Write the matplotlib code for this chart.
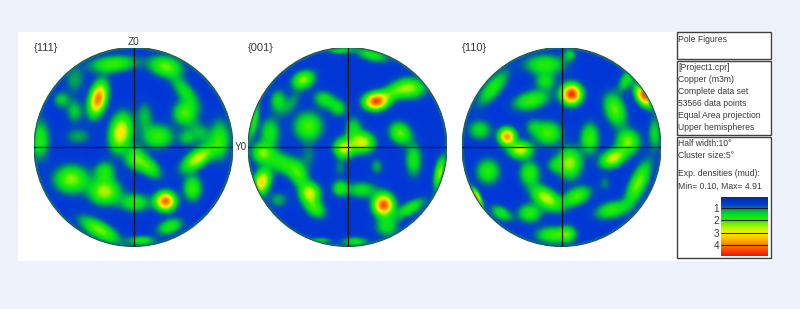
#!/usr/bin/python
""" Pole figures of a copper data set, equal area projection """
import matplotlib
matplotlib.use('Agg')
import matplotlib.pyplot as plt
from matplotlib.colors import LinearSegmentedColormap
from matplotlib.patches import Circle, Rectangle
import numpy as np

plt.rcParams['font.family'] = ['Liberation Sans', 'DejaVu Sans']

TEXT_COLOR = '#3a3a3a'
BASE_DENSITY = 0.55
SPREAD = 1.12  # widens every cluster, half width of the smoothing

# density clusters: u, v on the unit disc, height in mud, two spreads, tilt in deg
U_111 = [-.357, -.128, -.205, .323, .519, .519, .249, .114, -.593, -.727, -.593,
         -.559, -.946, .872, .67, .653, .013, .148, -.626, -.29, -.29, .596, .323,
         .013, -.34, .367, .08, .535]
V_111 = [.481, .141, .832, .808, .556, .337, .101, .303, .354, .471, .673, .101,
         .067, .067, .135, -.118, -.118, -.202, -.33, -.253, -.455, -.421, -.552,
         -.566, -.842, -.808, -.949, .084]
H_111 = [4.1, 3.1, 2.0, 2.2, 1.6, 2.1, 2.0, 1.3, 1.4, 1.4, 1.2, 1.2, 1.8, 1.8, 1.3,
         2.8, 1.8, 2.0, 2.4, 1.7, 2.6, 2.0, 4.2, 1.8, 2.3, 1.8, 1.7, 1.3]
A_111 = [.10, .11, .14, .10, .12, .07, .09, .09, .07, .05, .08, .08, .12, .12, .08,
         .11, .07, .09, .10, .06, .09, .075, .06, .09, .13, .08, .08, .05]
B_111 = [.05, .065, .05, .06, .05, .07, .07, .05, .05, .05, .06, .05, .06, .06, .06,
         .05, .06, .05, .08, .06, .075, .055, .055, .055, .05, .045, .03, .05]
T_111 = [75, 80, 5, -10, -50, 0, 0, 90, 90, 0, 90, 0, 90, 90, -45,
         35, 90, -40, 0, 0, 0, 90, 0, 0, -30, 20, 0, 0]

U_001 = [.286, .633, .448, .246, -.074, -.444, -.697, -.562, -.226, -.091, -.394,
         -.781, .061, .152, -.034, .532, -.865, -.663, -.49, -.394, -.865, -.377,
         -.327, -.697, -.074, .364, .145, .667, .296, -.074, .936, .633, .397, .077,
         -.276, -.95]
V_001 = [.455, .589, .539, .926, .97, .673, .455, .438, .471, .387, .202, .135, .185,
         .04, -.017, .135, -.067, -.168, -.286, -.10, -.36, -.471, -.623, -.539,
         -.421, -.589, -.438, -.135, -.202, -.219, -.269, -.623, -.808, -.96, -.949,
         .27]
H_001 = [4.3, 2.3, 1.7, 1.7, 1.5, 2.4, 1.6, 1.1, 1.7, 1.5, 2.1, 1.7, 1.5, 2.8, 2.7,
         2.2, 2.0, 1.8, 1.7, 1.0, 3.2, 2.7, 1.9, 1.2, 1.7, 4.4, 1.6, 1.7, 1.2, 1.0,
         2.4, 1.8, 1.6, 1.6, 1.4, 1.9]
A_001 = [.07, .09, .09, .10, .08, .07, .07, .09, .07, .05, .085, .09, .07, .07, .06,
         .07, .06, .12, .09, .08, .08, .06, .07, .06, .05, .065, .09, .10, .05, .05,
         .10, .10, .07, .08, .07, .12]
B_001 = [.05, .06, .05, .04, .025, .05, .05, .04, .05, .05, .085, .06, .05, .06, .06,
         .06, .06, .06, .05, .05, .05, .06, .05, .05, .05, .06, .05, .05, .04, .04,
         .035, .04, .06, .03, .02, .03]
T_001 = [5, 0, 20, -15, 0, 25, 90, 55, -20, 0, 0, 90, 90, 0, 0, -45, 0, -30, -70, 90,
         70, 0, -40, 0, 0, 90, 0, 90, 90, 90, 80, 30, 0, 0, 0, 80]

U_110 = [.101, .835, .657, -.549, -.414, .539, -.303, -.162, -.168, .084, -.69,
         -.825, -.135, -.286, .286, .673, .522, .084, -.067, -.741, -.32, -.152,
         .152, -.32, -.606, -.859, .505, .774, -.084, .067, .438, .943]
V_110 = [.529, .515, .673, .101, -.034, .37, .465, .657, .825, .926, .589, .168,
         .135, .202, .084, .05, -.118, -.168, -.185, -.253, -.269, -.522, -.505,
         -.673, -.673, -.522, -.64, -.37, -.892, -.882, -.37, .135]
H_110 = [4.7, 4.3, 1.6, 3.8, 2.8, 2.2, 2.0, 1.6, 1.9, 1.4, 1.8, 1.6, 2.1, 1.2, 2.0,
         2.3, 2.8, 2.5, 1.3, 1.9, 1.9, 2.7, 2.1, 1.9, 1.7, 4.0, 1.9, 2.3, 2.0, 1.6,
         1.0, 1.5]
A_110 = [.06, .07, .08, .05, .07, .10, .11, .06, .12, .04, .13, .07, .08, .05, .09,
         .07, .08, .09, .05, .075, .07, .10, .09, .07, .07, .06, .10, .14, .10, .05,
         .05, .10]
B_110 = [.06, .045, .04, .05, .05, .06, .055, .05, .06, .04, .05, .06, .07, .05,
         .055, .07, .05, .07, .05, .07, .06, .055, .05, .055, .04, .025, .05, .05,
         .05, .05, .04, .04]
T_110 = [0, -60, 60, 0, 0, -70, 15, 0, 0, 0, 50, 0, 0, 0, 90, 0, 25, 90, 0, 90, 90,
         -35, 25, 0, -30, -65, 15, 65, 0, 0, 90, 90]

FIGURE_NAMES = ['{111}', '{001}', '{110}']
FIGURE_CLUSTERS = [
    (U_111, V_111, H_111, A_111, B_111, T_111),
    (U_001, V_001, H_001, A_001, B_001, T_001),
    (U_110, V_110, H_110, A_110, B_110, T_110),
]

TITLE_LINES = ['Pole Figures']
INFO_LINES = ['[Project1.cpr]', 'Copper (m3m)', 'Complete data set', '53566 data points',
              'Equal Area projection', 'Upper hemispheres']
SMOOTHING_LINES = ['Half width:10\u00b0', 'Cluster size:5\u00b0']
DENSITY_LINES = ['Exp. densities (mud):', 'Min= 0.10, Max= 4.91']
DENSITY_MIN = 0.10
DENSITY_MAX = 4.91
LEVELS = [1, 2, 3, 4]

CMAP = LinearSegmentedColormap.from_list('pole', [
    (0.0, '#00308c'), (0.07, '#0034c4'), (0.1, '#0038d8'), (0.14, '#0048c0'),
    (0.187, '#008078'), (0.24, '#00b848'), (0.29, '#00e020'), (0.395, '#30ee00'),
    (0.5, '#a0f400'), (0.603, '#ffee00'), (0.707, '#ffc000'), (0.81, '#ff8000'),
    (0.9, '#ff4800'), (1.0, '#e81800')])


def density_grid(clusters, size=300):
    """ sum the clusters into a density map on the unit square """
    axis = np.linspace(-1, 1, size)
    xx_, yy_ = np.meshgrid(axis, axis)
    grid = np.full(xx_.shape, BASE_DENSITY)
    for u_, v_, hgt, a_, b_, tilt in zip(*clusters):
        rad = np.radians(tilt)
        along = (xx_ - u_) * np.cos(rad) + (yy_ - v_) * np.sin(rad)
        across = -(xx_ - u_) * np.sin(rad) + (yy_ - v_) * np.cos(rad)
        grid += (hgt - BASE_DENSITY) * np.exp(
            -0.5 * ((along / (a_ * SPREAD))**2 + (across / (b_ * SPREAD))**2))
    return np.clip(grid, DENSITY_MIN, DENSITY_MAX)


def pole_figure(fig, left, clusters):
    """ draw one disc with its cross """
    ax_ = fig.add_axes([left / 800., (309 - 246.5) / 309., 199 / 800., 199 / 309.])
    ax_.set_xlim(-1, 1)
    ax_.set_ylim(-1, 1)
    ax_.axis('off')
    img = ax_.imshow(density_grid(clusters), extent=(-1, 1, -1, 1), origin='lower',
                     cmap=CMAP, vmin=DENSITY_MIN, vmax=DENSITY_MAX, aspect='auto',
                     interpolation='bilinear')
    img.set_clip_path(Circle((0, 0), 1, transform=ax_.transData))
    ax_.add_patch(Circle((0, 0), 0.99, fill=False, ec='#00a060', lw=1.6, alpha=0.4))
    ax_.add_patch(Circle((0, 0), 1, fill=False, ec='#2a5a40', lw=0.8))
    ax_.plot([-1, 1], [0, 0], color='#101810', lw=0.9)
    ax_.plot([0, 0], [-1, 1], color='#101810', lw=0.9)


def text_lines(page, lines, first_y, step):
    """ left aligned lines inside a framed box """
    for i, line in enumerate(lines):
        page.text(678, first_y + i * step, line, fontsize=6.2, color=TEXT_COLOR,
                  va='center', ha='left')


def frame(page, top, bottom):
    """ one of the framed boxes on the right """
    page.add_patch(Rectangle((676.5, top), 94, bottom - top, fc='white',
                             ec='#404040', lw=1.0))


def make_plot():
    """ the whole window """
    fig = plt.figure(figsize=(8, 3.09), dpi=100, facecolor='#eef2fb')
    page = fig.add_axes([0, 0, 1, 1])
    page.set_xlim(0, 800)
    page.set_ylim(309, 0)
    page.axis('off')
    page.add_patch(Rectangle((18, 32), 755, 229, fc='white', ec='none'))

    for left, clusters in zip([34, 248, 462], FIGURE_CLUSTERS):
        pole_figure(fig, left, clusters)

    for x_, name in zip([34, 248, 462], FIGURE_NAMES):
        page.text(x_, 48, name, fontsize=8, color=TEXT_COLOR, va='center')
    page.text(133.5, 42, 'Z0', fontsize=7.2, color=TEXT_COLOR, va='center', ha='center')
    page.text(235, 147, 'Y0', fontsize=7.2, color=TEXT_COLOR, va='center')

    frame(page, 32, 59)
    text_lines(page, TITLE_LINES, 40, 12)
    frame(page, 61, 135)
    text_lines(page, INFO_LINES, 68, 12)
    frame(page, 137, 258)
    text_lines(page, SMOOTHING_LINES, 143, 13)
    text_lines(page, DENSITY_LINES, 173, 13)

    # colour scale, top is the minimum
    cbar = fig.add_axes([721 / 800., (309 - 256) / 309., 47 / 800., 59 / 309.])
    scale = np.linspace(DENSITY_MIN, DENSITY_MAX, 256)[:, np.newaxis]
    cbar.imshow(scale, cmap=CMAP, aspect='auto', origin='upper',
                extent=(0, 1, DENSITY_MAX, DENSITY_MIN))
    cbar.hlines(LEVELS, 0, 1, color='#202020', lw=0.8)
    cbar.set_xticks([])
    cbar.set_yticks(LEVELS)
    cbar.set_yticklabels([str(lev) for lev in LEVELS], fontsize=7.2, color=TEXT_COLOR)
    cbar.tick_params(axis='y', length=0, pad=1.5)
    for spine in cbar.spines.values():
        spine.set_visible(False)

    fig.savefig('out.png', dpi=100, facecolor=fig.get_facecolor())


if __name__ == '__main__':
    make_plot()
